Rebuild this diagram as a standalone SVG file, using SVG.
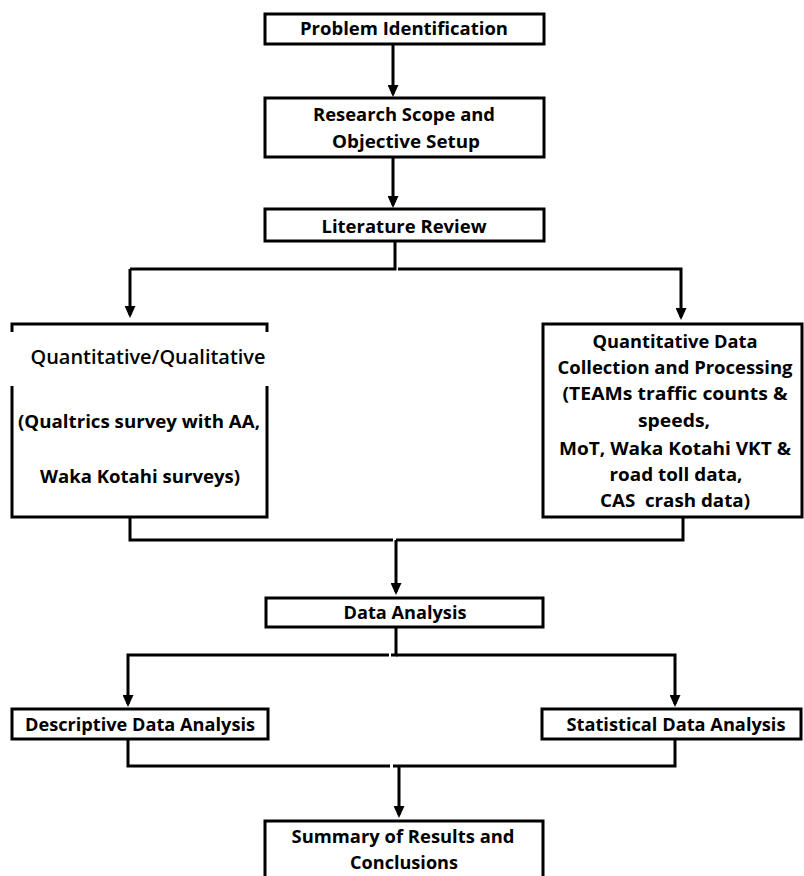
<svg xmlns="http://www.w3.org/2000/svg" width="804" height="876" viewBox="0 0 804 876">
<style>
.box{fill:#fff;stroke:#000;stroke-width:3}
.ln{fill:none;stroke:#000;stroke-width:3}
.t{font-family:"Open Sans","Noto Sans","Liberation Sans",sans-serif;font-weight:bold;font-size:17px;fill:#000;text-anchor:middle}
.q{font-family:"Open Sans","Noto Sans","Liberation Sans",sans-serif;font-weight:600;font-size:19px;fill:#000;text-anchor:middle}
</style>
<defs>
<marker id="ah" viewBox="0 0 12 11" markerWidth="12" markerHeight="11" refX="9" refY="5.5" orient="auto" markerUnits="userSpaceOnUse">
<path d="M0,0 L12,5.5 L0,11 z" fill="#000"/>
</marker>
</defs>
<rect width="804" height="876" fill="#fff"/>
<g id="connectors">
<line class="ln" x1="393" y1="45" x2="393" y2="94" marker-end="url(#ah)"/>
<line class="ln" x1="393" y1="157" x2="393" y2="205" marker-end="url(#ah)"/>
<polyline class="ln" points="395,242 395,269 130,269"/>
<line class="ln" x1="130" y1="269" x2="130" y2="315" marker-end="url(#ah)"/>
<polyline class="ln" points="398,269 681,269 681,317" marker-end="url(#ah)"/>
<polyline class="ln" points="130,517 130,540 393,540"/>
<polyline class="ln" points="396,540 683,540 683,517"/>
<line class="ln" x1="396" y1="540" x2="396" y2="592" marker-end="url(#ah)"/>
<polyline class="ln" points="396,628 396,655 391,655"/>
<polyline class="ln" points="389,655 128,655 128,704" marker-end="url(#ah)"/>
<polyline class="ln" points="396,655 675,655 675,704" marker-end="url(#ah)"/>
<polyline class="ln" points="128,740 128,766 390,766"/>
<polyline class="ln" points="393,766 675,766 675,740"/>
<line class="ln" x1="399" y1="766" x2="399" y2="815" marker-end="url(#ah)"/>
</g>
<g id="n1">
<rect class="box" x="265" y="14" width="279" height="30"/>
<text class="t" x="404" y="35" textLength="208" lengthAdjust="spacingAndGlyphs">Problem Identification</text>
</g>
<g id="n2">
<rect class="box" x="265" y="98" width="279" height="59"/>
<text class="t" x="404" y="121" textLength="182" lengthAdjust="spacingAndGlyphs">Research Scope and</text>
<text class="t" x="406" y="148" textLength="148" lengthAdjust="spacingAndGlyphs">Objective Setup</text>
</g>
<g id="n3">
<rect class="box" x="265" y="209" width="279" height="32"/>
<text class="t" x="404" y="233" textLength="165" lengthAdjust="spacingAndGlyphs">Literature Review</text>
</g>
<g id="n4">
<rect class="box" x="12" y="324" width="255" height="193"/>
<rect x="5" y="332" width="270" height="54" fill="#fff"/>
<text class="q" x="148" y="364" textLength="235" lengthAdjust="spacingAndGlyphs">Quantitative/Qualitative</text>
<text class="t" x="139" y="428" textLength="242" lengthAdjust="spacingAndGlyphs">(Qualtrics survey with AA,</text>
<text class="t" x="140" y="483" textLength="200" lengthAdjust="spacingAndGlyphs">Waka Kotahi surveys)</text>
</g>
<g id="n5">
<rect class="box" x="543" y="324" width="259" height="193"/>
<text class="t" x="675" y="348" textLength="165" lengthAdjust="spacingAndGlyphs">Quantitative Data</text>
<text class="t" x="675" y="374" textLength="235" lengthAdjust="spacingAndGlyphs">Collection and Processing</text>
<text class="t" x="675" y="400" textLength="225" lengthAdjust="spacingAndGlyphs">(TEAMs traffic counts &amp;</text>
<text class="t" x="674" y="427" textLength="72" lengthAdjust="spacingAndGlyphs">speeds,</text>
<text class="t" x="675" y="455" textLength="232" lengthAdjust="spacingAndGlyphs">MoT, Waka Kotahi VKT &amp;</text>
<text class="t" x="676" y="481" textLength="133" lengthAdjust="spacingAndGlyphs">road toll data,</text>
<text class="t" x="675" y="507" textLength="150" lengthAdjust="spacingAndGlyphs" xml:space="preserve">CAS  crash data)</text>
</g>
<g id="n6">
<rect class="box" x="266" y="598" width="277" height="29"/>
<text class="t" x="405" y="619" textLength="123" lengthAdjust="spacingAndGlyphs">Data Analysis</text>
</g>
<g id="n7">
<rect class="box" x="12" y="709" width="256" height="30"/>
<text class="t" x="140" y="731" textLength="230" lengthAdjust="spacingAndGlyphs">Descriptive Data Analysis</text>
</g>
<g id="n8">
<rect class="box" x="542" y="709" width="259" height="30"/>
<text class="t" x="676" y="731" textLength="219" lengthAdjust="spacingAndGlyphs">Statistical Data Analysis</text>
</g>
<g id="n9">
<rect class="box" x="265" y="821" width="278" height="60"/>
<text class="t" x="403" y="843" textLength="223" lengthAdjust="spacingAndGlyphs">Summary of Results and</text>
<text class="t" x="404" y="869" textLength="108" lengthAdjust="spacingAndGlyphs">Conclusions</text>
</g>
</svg>
